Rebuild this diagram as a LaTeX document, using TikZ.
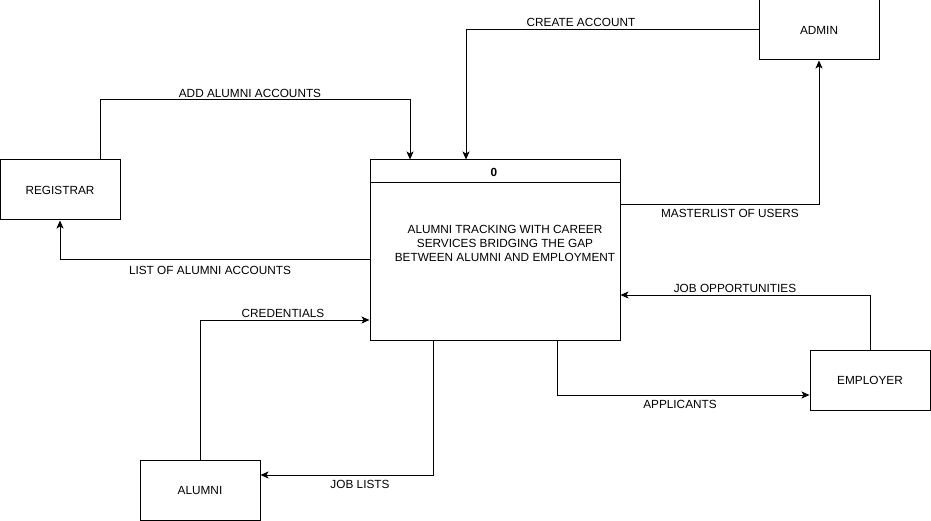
\documentclass[tikz,border=0pt]{standalone}
\usepackage{fontspec}
\setmainfont{Liberation Sans}
\usetikzlibrary{arrows.meta,calc}
\begin{document}
\begin{tikzpicture}[x=1pt,y=-1pt,
  font=\fontsize{11.8}{14.4}\selectfont,
  entity/.style={draw,line width=1pt,minimum width=120pt,minimum height=60pt,inner sep=0pt},
  flow/.style={draw,line width=1pt,-{Stealth[length=8pt,width=7pt,inset=2pt]}},
  lbl/.style={inner sep=0pt}]
\useasboundingbox (0,0) rectangle (931,521);
\node[entity] (admin) at (819,30) {ADMIN};
\node[entity] (reg) at (60,190) {REGISTRAR};
\node[entity] (alumni) at (200,490) {ALUMNI};
\node[entity] (emp) at (870,380) {EMPLOYER};
\node[draw,line width=1pt,minimum width=250pt,minimum height=180pt,inner sep=0pt] (proc) at (495,250) {};
\draw[line width=1pt] ($(proc.north west)+(0,23)$) coordinate (hl) -- ($(proc.north east)+(0,23)$) coordinate (hr);
\node[lbl,font=\fontsize{11.8}{14.4}\selectfont\bfseries] (pnum) at (494,172) {0};
\node[lbl,align=center] (ptext) at (505,243.5) {ALUMNI TRACKING WITH CAREER\\SERVICES BRIDGING THE GAP\\ BETWEEN ALUMNI AND EMPLOYMENT};

\draw[flow] ([xshift=40]reg.north) -- ++(0,-60) -| ([xshift=-85]proc.north);
\node[lbl] (l1) at (250,93) {ADD ALUMNI ACCOUNTS};
\draw[flow] ([yshift=-10]proc.west) -| (reg.south);
\node[lbl] (l2) at (210,270) {LIST OF ALUMNI ACCOUNTS};
\draw[flow] (admin.west) -| ([xshift=-29]proc.north);
\node[lbl] (l3) at (581,22) {CREATE ACCOUNT};
\draw[flow] ([yshift=45]proc.east) -| (admin.south);
\node[lbl] (l4) at (730,213) {MASTERLIST OF USERS};
\draw[flow] (alumni.north) |- ([yshift=-70]proc.west);
\node[lbl] (l5) at (283,313) {CREDENTIALS};
\draw[flow] ([xshift=-62]proc.south) |- ([yshift=15]alumni.east);
\node[lbl] (l6) at (360,484) {JOB LISTS};
\draw[flow] (emp.north) |- ([yshift=-45]proc.east);
\node[lbl] (l7) at (735,288) {JOB OPPORTUNITIES};
\draw[flow] ([xshift=62]proc.south) |- ([yshift=-15]emp.west);
\node[lbl] (l8) at (680,404) {APPLICANTS};
\end{tikzpicture}
\end{document}
